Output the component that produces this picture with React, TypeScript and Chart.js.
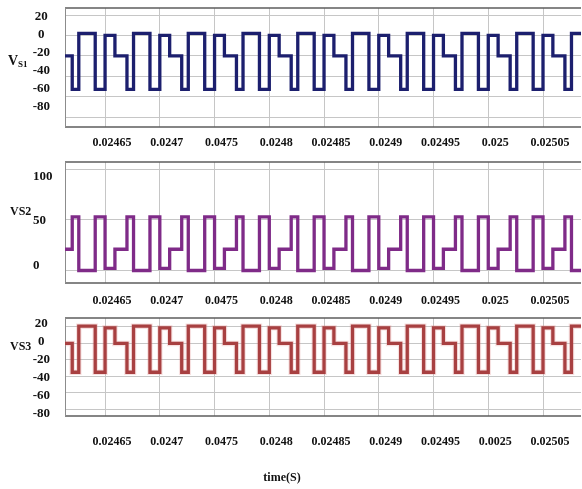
import React, { useEffect, useRef } from "react";
import { Chart, registerables } from "chart.js";

Chart.register(...registerables);

// time axis in microseconds (0.02465 s = 24650 us)
const TIME_US = [
  24613, 24620,
  24626, 24641, 24650, 24659, 24670,
  24676, 24691, 24700, 24709, 24720,
  24726, 24741, 24750, 24759, 24770,
  24776, 24791, 24800, 24809, 24820,
  24826, 24841, 24850, 24859, 24870,
  24876, 24891, 24900, 24909, 24920,
  24926, 24941, 24950, 24959, 24970,
  24976, 24991, 25000, 25009, 25020,
  25026, 25041, 25050, 25059, 25070,
  25076, 25085,
];

const VS1 = [
  -20, -53,
  2, -53, 0, -20, -53,
  2, -53, 0, -20, -53,
  2, -53, 0, -20, -53,
  2, -53, 0, -20, -53,
  2, -53, 0, -20, -53,
  2, -53, 0, -20, -53,
  2, -53, 0, -20, -53,
  2, -53, 0, -20, -53,
  2, -53, 0, -20, -53,
  2, 2,
];

const VS2 = [
  21, 53,
  0, 53, 2, 21, 53,
  0, 53, 2, 21, 53,
  0, 53, 2, 21, 53,
  0, 53, 2, 21, 53,
  0, 53, 2, 21, 53,
  0, 53, 2, 21, 53,
  0, 53, 2, 21, 53,
  0, 53, 2, 21, 53,
  0, 53, 2, 21, 53,
  0, 0,
];

const VS3 = [
  0, -35,
  21, -35, 19, 0, -35,
  21, -35, 19, 0, -35,
  21, -35, 19, 0, -35,
  21, -35, 19, 0, -35,
  21, -35, 19, 0, -35,
  21, -35, 19, 0, -35,
  21, -35, 19, 0, -35,
  21, -35, 19, 0, -35,
  21, -35, 19, 0, -35,
  21, 21,
];

const X_TICKS = [24650, 24700, 24750, 24800, 24850, 24900, 24950, 25000, 25050];
const X_LABELS_A = ["0.02465", "0.0247", "0.0475", "0.0248", "0.02485", "0.0249", "0.02495", "0.025", "0.02505"];
const X_LABELS_B = ["0.02465", "0.0247", "0.0475", "0.0248", "0.02485", "0.0249", "0.02495", "0.0025", "0.02505"];

const VS1_TICKS = [20, 0, -20, -40, -60, -80];
const VS2_TICKS = [100, 50, 0];
const VS3_TICKS = [20, 0, -20, -40, -60, -80];

const X_MIN = 24613.4;
const X_MAX = 25084.7;

const FONT_FAMILY = "'Liberation Serif', 'Times New Roman', serif";

type PanelProps = {
  top: number;
  height: number;
  values: number[];
  color: string;
  halo?: string;
  yTicks: number[];
  yRange: [number, number];
  labelRange: [number, number];
  crossAlign: "center" | "far";
  padLeft: number;
  dataAxisWidth: number;
  padTop: number;
  xAxisHeight: number;
  xPad: number;
  xLabels: string[];
  name: string;
  sub?: string;
  nameValue: number;
  xTitle?: string;
};

function Panel(p: PanelProps) {
  const ref = useRef<HTMLCanvasElement | null>(null);
  useEffect(() => {
    if (!ref.current) return;
    const points = TIME_US.map((t, i) => ({ x: t, y: p.values[i] }));
    const yFont = { family: FONT_FAMILY, size: 13, weight: "bold" as const };
    const xFont = { family: FONT_FAMILY, size: 12, weight: "bold" as const };

    const framePlugin = {
      id: "frame",
      beforeDatasetsDraw(chart: any) {
        const { ctx, chartArea } = chart;
        const { left, right, top, bottom } = chartArea;
        ctx.save();
        ctx.strokeStyle = "#5e5e5e";
        ctx.lineWidth = 1.5;
        ctx.beginPath();
        ctx.moveTo(left, top);
        ctx.lineTo(right, top);
        ctx.moveTo(left, bottom);
        ctx.lineTo(right, bottom);
        ctx.stroke();
        ctx.strokeStyle = "#8c8c8c";
        ctx.lineWidth = 1;
        ctx.beginPath();
        ctx.moveTo(left + 0.5, top);
        ctx.lineTo(left + 0.5, bottom);
        ctx.stroke();
        ctx.restore();
      },
      afterDraw(chart: any) {
        const { ctx, chartArea } = chart;
        const yl = chart.scales.yl;
        const y = yl.getPixelForValue(p.nameValue);
        ctx.save();
        ctx.fillStyle = "#111";
        ctx.textBaseline = "middle";
        ctx.textAlign = "left";
        if (p.sub) {
          ctx.font = `bold 14px ${FONT_FAMILY}`;
          ctx.fillText(p.name, 8, y);
          const w = ctx.measureText(p.name).width;
          ctx.font = `bold 9px ${FONT_FAMILY}`;
          ctx.fillText(p.sub, 8 + w, y + 3);
        } else {
          ctx.font = `bold 12px ${FONT_FAMILY}`;
          ctx.fillText(p.name, 10, y);
        }
        if (p.xTitle) {
          ctx.font = `bold 12px ${FONT_FAMILY}`;
          ctx.textAlign = "center";
          ctx.fillText(p.xTitle, (chartArea.left + chartArea.right) / 2 - 41, chartArea.bottom + 62);
        }
        ctx.restore();
      },
    };

    const datasets: any[] = [];
    if (p.halo) {
      datasets.push({
        data: points,
        borderColor: p.halo,
        borderWidth: 5.5,
        pointRadius: 0,
        stepped: true,
        fill: false,
      });
    }
    datasets.push({
      data: points,
      borderColor: p.color,
      borderWidth: 3.3,
      pointRadius: 0,
      stepped: true,
      fill: false,
      borderJoinStyle: "miter",
    });

    const chart = new Chart(ref.current, {
      type: "line",
      data: { datasets },
      options: {
        animation: false,
        responsive: false,
        devicePixelRatio: 1,
        events: [],
        layout: { padding: { top: p.padTop, left: p.padLeft, right: 1, bottom: 0 } },
        plugins: { legend: { display: false }, tooltip: { enabled: false }, title: { display: false } },
        scales: {
          x: {
            type: "linear",
            min: X_MIN,
            max: X_MAX,
            afterBuildTicks: (s: any) => {
              s.ticks = X_TICKS.map((v) => ({ value: v }));
            },
            afterFit: (s: any) => {
              s.height = p.xAxisHeight;
            },
            grid: { color: "#c6c6c6", lineWidth: 1, drawTicks: false },
            border: { display: false },
            ticks: {
              autoSkip: false,
              maxRotation: 0,
              minRotation: 0,
              padding: p.xPad,
              labelOffset: 7,
              color: "#111",
              font: xFont,
              callback: (_v: any, i: number) => p.xLabels[i],
            },
          },
          y: {
            type: "linear",
            position: "left",
            weight: 0,
            min: p.yRange[0],
            max: p.yRange[1],
            afterBuildTicks: (s: any) => {
              s.ticks = p.yTicks.map((v) => ({ value: v }));
            },
            afterFit: (s: any) => {
              s.width = p.dataAxisWidth;
            },
            grid: { color: "#c6c6c6", lineWidth: 1, drawTicks: false },
            border: { display: false },
            ticks: { display: false },
          },
          yl: {
            type: "linear",
            position: "left",
            weight: 1,
            min: p.labelRange[0],
            max: p.labelRange[1],
            afterBuildTicks: (s: any) => {
              s.ticks = p.yTicks.map((v) => ({ value: v }));
            },
            afterFit: (s: any) => {
              s.width = 65 - p.padLeft - p.dataAxisWidth;
            },
            grid: { display: false, drawTicks: false },
            border: { display: false },
            ticks: {
              crossAlign: p.crossAlign,
              padding: 0,
              color: "#111",
              font: yFont,
            },
          },
        },
      } as any,
      plugins: [framePlugin],
    });
    return () => chart.destroy();
  }, []);
  return (
    <canvas
      ref={ref}
      width={582}
      height={p.height}
      style={{ position: "absolute", left: 0, top: p.top, width: 582, height: p.height, display: "block" }}
    />
  );
}

export default function App() {
  return (
    <div style={{ position: "absolute", left: 0, top: 0, width: 582, height: 489, background: "#fff", overflow: "hidden" }}>
      <Panel
        top={0}
        height={152}
        values={VS1}
        color="#1c1f6e"
        yTicks={VS1_TICKS}
        yRange={[-89.8, 26.9]}
        labelRange={[-102.7, 29.4]}
        crossAlign="center"
        padLeft={0}
        dataAxisWidth={15}
        padTop={8}
        xAxisHeight={25}
        xPad={9}
        xLabels={X_LABELS_A}
        name="V"
        sub="S1"
        nameValue={-30}
      />
      <Panel
        top={150}
        height={165}
        values={VS2}
        color="#7f2b88"
        yTicks={VS2_TICKS}
        yRange={[-12.4, 107.4]}
        labelRange={[-20, 115.9]}
        crossAlign="far"
        padLeft={33}
        dataAxisWidth={0}
        padTop={12}
        xAxisHeight={32}
        xPad={11}
        xLabels={X_LABELS_A}
        name="VS2"
        nameValue={60}
      />
      <Panel
        top={305}
        height={184}
        values={VS3}
        color="#962a2b"
        halo="rgba(225,130,130,0.25)"
        yTicks={VS3_TICKS}
        yRange={[-88.1, 30.9]}
        labelRange={[-83, 25.9]}
        crossAlign="center"
        padLeft={0}
        dataAxisWidth={15}
        padTop={13}
        xAxisHeight={73}
        xPad={19}
        xLabels={X_LABELS_B}
        name="VS3"
        nameValue={-6}
        xTitle="time(S)"
      />
    </div>
  );
}
